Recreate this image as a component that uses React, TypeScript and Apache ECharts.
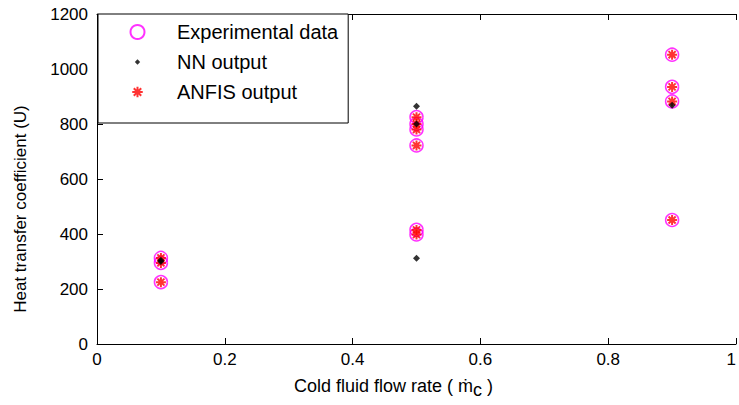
import React, { useEffect, useRef } from "react";
import * as echarts from "echarts";

const expX = [0.1, 0.1, 0.1, 0.5, 0.5, 0.5, 0.5, 0.5, 0.5, 0.9, 0.9, 0.9, 0.9];
const expU = [313, 295, 225, 825, 800, 780, 722, 415, 398, 1052, 935, 882, 451];
const anfisX = [0.1, 0.1, 0.1, 0.5, 0.5, 0.5, 0.5, 0.5, 0.5, 0.9, 0.9, 0.9, 0.9];
const anfisU = [313, 295, 225, 825, 800, 780, 722, 415, 398, 1052, 935, 882, 451];
const nnX = [0.1, 0.1, 0.5, 0.5, 0.5, 0.9];
const nnU = [305, 300, 865, 800, 312, 868];
const xTicks = [0, 0.2, 0.4, 0.6, 0.8, 1];
const yTicks = [0, 200, 400, 600, 800, 1000, 1200];

const pairs = (xs: number[], ys: number[]) => xs.map((x, i) => [x, ys[i]]);

const ASTERISK =
  "path://M0,-10 L0,10 M-10,0 L10,0 M-7.07,-7.07 L7.07,7.07 M-7.07,7.07 L7.07,-7.07";
const LEGEND_ASTERISK =
  "path://M-10,-10 M10,10 M0,-7.5 L0,7.5 M-7.5,0 L7.5,0 M-5.3,-5.3 L5.3,5.3 M-5.3,5.3 L5.3,-5.3";
const LEGEND_DIAMOND = "path://M-10,-10 M10,10 M0,-3.8 L3.8,0 L0,3.8 L-3.8,0 Z";

export default function App() {
  const ref = useRef<HTMLDivElement>(null);
  useEffect(() => {
    if (!ref.current) return;
    document.body.style.margin = "0";
    document.body.style.overflow = "hidden";
    document.documentElement.style.overflow = "hidden";
    const chart = echarts.init(ref.current, undefined, { renderer: "svg" });
    const font = "Liberation Sans, Arial, sans-serif";
    const txt = "#000";
    chart.setOption({
      animation: false,
      backgroundColor: "#fff",
      textStyle: { fontFamily: font },
      grid: { left: 97, top: 14, width: 640, height: 330, containLabel: false },
      legend: {
        orient: "vertical",
        left: 98,
        top: 14,
        backgroundColor: "#fff",
        borderColor: "#000",
        borderWidth: 1,
        padding: [8, 10, 21, 30],
        itemWidth: 25,
        itemHeight: 14,
        itemGap: 10,
        textStyle: {
          fontSize: 20,
          color: txt,
          fontFamily: font,
          padding: [0, 0, 0, 22],
        },
        data: [
          { name: "Experimental data", icon: "circle" },
          { name: "NN output", icon: LEGEND_DIAMOND },
          { name: "ANFIS output", icon: LEGEND_ASTERISK },
        ],
      },
      xAxis: [
        {
          type: "value",
          min: 0,
          max: 1,
          interval: 0.2,
          position: "bottom",
          name: "Cold fluid flow rate ( {m|ṁ}{c|c} )",
          nameLocation: "middle",
          nameGap: 28,
          nameTextStyle: {
            fontSize: 18,
            color: txt,
            fontFamily: font,
            padding: [0, 46, 0, 0],
            rich: {
              m: { fontSize: 18, color: txt, fontFamily: font },
              c: { fontSize: 18, color: txt, fontFamily: font, padding: [9, 0, 0, 0] },
            },
          },
          axisLine: { show: true, lineStyle: { color: "#000", width: 1 } },
          axisTick: { show: true, inside: true, length: 6, lineStyle: { color: "#000" } },
          axisLabel: {
            fontSize: 17,
            color: txt,
            fontFamily: font,
            margin: 7,
            alignMaxLabel: "right",
            formatter: (v: number) => (xTicks.includes(v) ? String(v) : ""),
          },
          splitLine: { show: false },
        },
        {
          type: "value",
          min: 0,
          max: 1,
          interval: 0.2,
          position: "top",
          axisLine: { show: true, lineStyle: { color: "#000", width: 1 } },
          axisTick: { show: true, inside: true, length: 6, lineStyle: { color: "#000" } },
          axisLabel: { show: false },
          splitLine: { show: false },
        },
      ],
      yAxis: [
        {
          type: "value",
          min: 0,
          max: 1200,
          interval: 200,
          name: "Heat transfer coefficient (U)",
          nameLocation: "middle",
          nameGap: 68,
          nameTextStyle: {
            fontSize: 17,
            color: txt,
            fontFamily: font,
            padding: [0, 60, 0, 0],
          },
          axisLine: { show: true, lineStyle: { color: "#000", width: 1 } },
          axisTick: { show: true, inside: true, length: 6, lineStyle: { color: "#000" } },
          axisLabel: {
            fontSize: 17,
            color: txt,
            fontFamily: font,
            margin: 9,
            formatter: (v: number) => (yTicks.includes(v) ? String(v) : ""),
          },
          splitLine: { show: false },
        },
      ],
      series: [
        {
          name: "Experimental data",
          type: "scatter",
          data: pairs(expX, expU),
          symbol: "circle",
          symbolSize: 13,
          itemStyle: { color: "rgba(255,255,255,0)", borderColor: "#ff00ff", borderWidth: 1.5 },
          z: 2,
        },
        {
          name: "NN output",
          type: "scatter",
          data: pairs(nnX, nnU),
          symbol: "diamond",
          symbolSize: 7,
          itemStyle: { color: "#000", borderColor: "#000", borderWidth: 0 },
          z: 4,
        },
        {
          name: "ANFIS output",
          type: "scatter",
          data: pairs(anfisX, anfisU),
          symbol: ASTERISK,
          symbolSize: 10,
          itemStyle: { color: "none", borderColor: "#ff0000", borderWidth: 2 },
          z: 3,
        },
      ],
    });
    return () => chart.dispose();
  }, []);
  return (
    <div
      ref={ref}
      style={{ width: 739, height: 405, overflow: "hidden", background: "#fff" }}
    />
  );
}
